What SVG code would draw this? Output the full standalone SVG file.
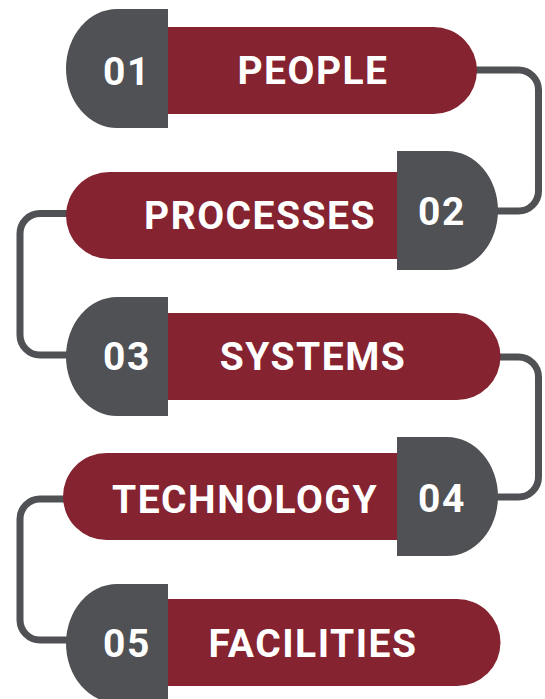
<svg xmlns="http://www.w3.org/2000/svg" width="545" height="699" viewBox="0 0 545 699">
<style>
.pill{fill:#862330}
.badge{fill:#505154}
.conn{fill:none;stroke:#505154;stroke-width:7}
.lbl{fill:#ffffff;font-family:Roboto,"Liberation Sans",sans-serif;font-weight:700;font-size:39px;letter-spacing:1.5px;text-anchor:middle}
</style>
<rect width="545" height="699" fill="#ffffff"/>
<g id="connectors">
<path class="conn" d="M470,70 H518.5 A20,20 0 0 1 538.5,90 V191 A20,20 0 0 1 518.5,211 H490"/>
<path class="conn" d="M75,213.5 H40 A20,20 0 0 0 20,233.5 V335 A20,20 0 0 0 40,355 H75"/>
<path class="conn" d="M490,357 H518.5 A20,20 0 0 1 538.5,377 V477 A20,20 0 0 1 518.5,497 H490"/>
<path class="conn" d="M70,499 H40 A20,20 0 0 0 20,519 V620 A20,20 0 0 0 40,640 H75"/>
</g>
<g id="node1">
<path class="pill" d="M150,27 H433.5 A43.5,43.5 0 0 1 433.5,114 H150 Z"/>
<path class="badge" d="M168,9 H117 A51,59.5 0 0 0 117,128 H168 Z"/>
<text class="lbl" x="127" y="85">01</text>
<text class="lbl" x="313" y="83.5">PEOPLE</text>
</g>
<g id="node2">
<path class="pill" d="M420,172 H109.5 A43.5,43.5 0 0 0 109.5,259 H420 Z"/>
<path class="badge" d="M397,151 H447 A51,59.5 0 0 1 447,270 H397 Z"/>
<text class="lbl" x="442" y="225">02</text>
<text class="lbl" x="260" y="228.5">PROCESSES</text>
</g>
<g id="node3">
<path class="pill" d="M150,313 H457 A43.5,43.5 0 0 1 457,400 H150 Z"/>
<path class="badge" d="M168,297 H117 A51,59.5 0 0 0 117,416 H168 Z"/>
<text class="lbl" x="127" y="370">03</text>
<text class="lbl" x="313" y="369.5">SYSTEMS</text>
</g>
<g id="node4">
<path class="pill" d="M420,453 H106.5 A43.5,43.5 0 0 0 106.5,540 H420 Z"/>
<path class="badge" d="M397,437 H447 A51,59.5 0 0 1 447,556 H397 Z"/>
<text class="lbl" x="442" y="511.5">04</text>
<text class="lbl" x="245" y="512.5">TECHNOLOGY</text>
</g>
<g id="node5">
<path class="pill" d="M150,599 H457 A43.5,43.5 0 0 1 457,686 H150 Z"/>
<path class="badge" d="M168,584 H117 A51,59.5 0 0 0 117,703 H168 Z"/>
<text class="lbl" x="127" y="657">05</text>
<text class="lbl" x="313" y="656.5">FACILITIES</text>
</g>
</svg>
